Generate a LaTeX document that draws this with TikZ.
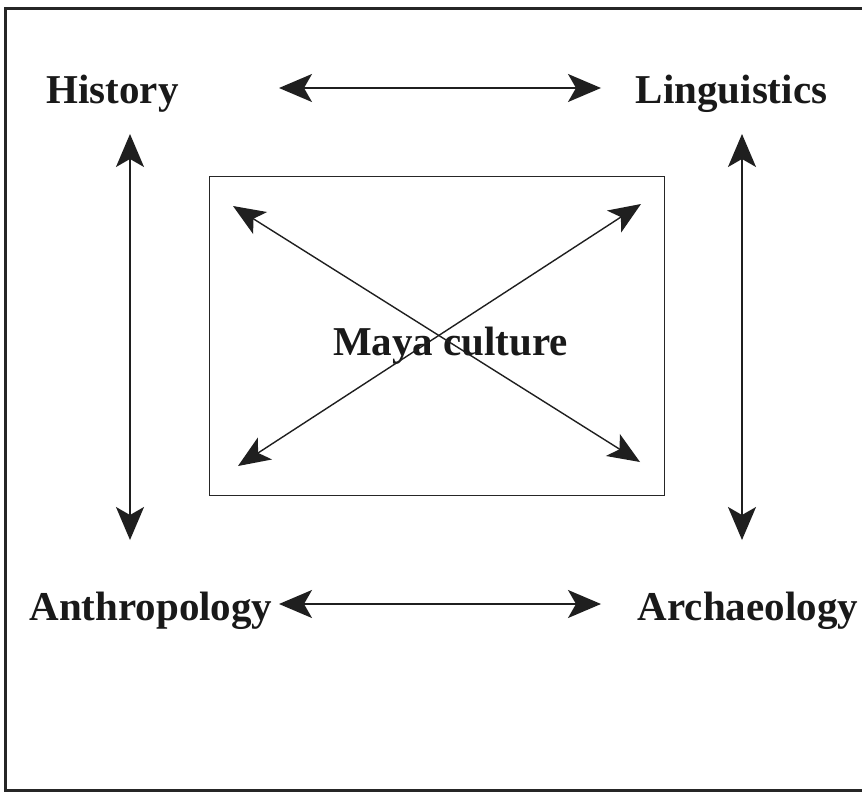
\documentclass[tikz,border=0pt]{standalone}
\usepackage{fontspec}
\setmainfont{Liberation Serif}
\usetikzlibrary{arrows.meta}
\begin{document}
\begin{tikzpicture}[x=1pt,y=-1pt,
  label/.style={font=\fontsize{41}{49}\selectfont\bfseries, text=black!90, inner sep=0pt, anchor=base},
  link/.style={line width=1.5pt, black!88, {Stealth[length=33pt,width=28pt,inset=8pt]}-{Stealth[length=33pt,width=28pt,inset=8pt]}},
  dlink/.style={line width=1.4pt, black!88, {Stealth[length=32pt,width=26pt,inset=8pt]}-{Stealth[length=32pt,width=26pt,inset=8pt]}}]
\useasboundingbox (0,0) rectangle (862,792);
% outer frame (open at right)
\draw[line width=3pt, black!85] (862,9) -- (5.5,9) -- (5.5,790.5) -- (862,790.5);
% labels
\node[label] (hist) at (112.5,103) {History};
\node[label] (ling) at (731.5,103) {Linguistics};
\node[label] (anth) at (151,620) {Anthropology};
\node[label] (arch) at (748,620) {Archaeology};
\node[label] (maya) at (450.5,355) {Maya culture};
% inner box
\draw[line width=1pt, black!85] (209,176) rectangle (664,495);
% connector ends
\coordinate (t1) at (279,88);  \coordinate (t2) at (601,88);
\coordinate (b1) at (279,604); \coordinate (b2) at (601,604);
\coordinate (l1) at (130,134); \coordinate (l2) at (130,540);
\coordinate (r1) at (742,134); \coordinate (r2) at (742,540);
\coordinate (d1) at (233,206); \coordinate (d2) at (640,462);
\coordinate (e1) at (641,204); \coordinate (e2) at (238,466);
\draw[link] (t1) -- (t2);
\draw[link] (b1) -- (b2);
\draw[link] (l1) -- (l2);
\draw[link] (r1) -- (r2);
\draw[dlink] (d1) -- (d2);
\draw[dlink] (e1) -- (e2);
\end{tikzpicture}
\end{document}
